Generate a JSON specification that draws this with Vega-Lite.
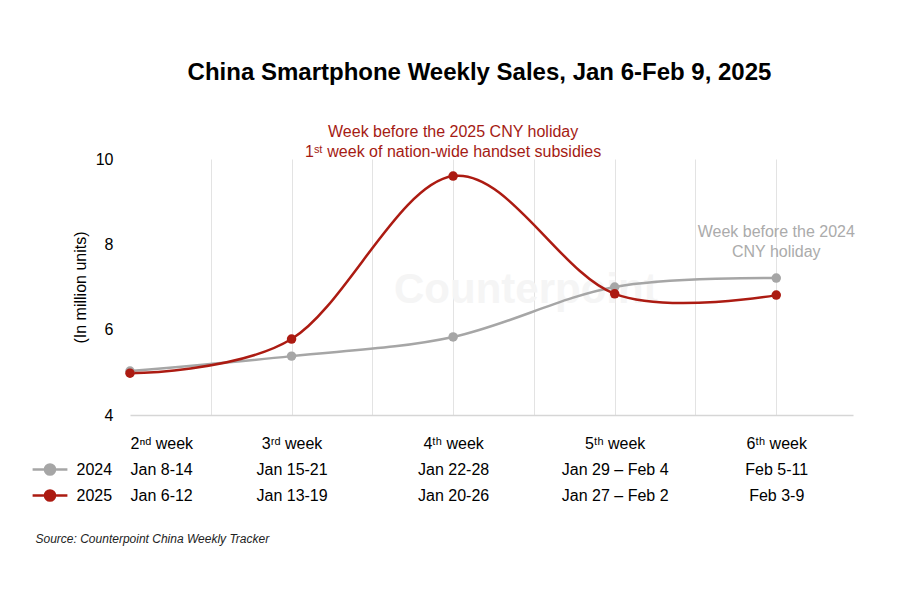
{
  "$schema": "https://vega.github.io/schema/vega-lite/v6.json",
  "autosize": {"type": "none"},
  "width": 723,
  "height": 256,
  "padding": {"left": 130, "top": 159, "right": 47, "bottom": 185},
  "background": "white",
  "config": {"font": "Liberation Sans", "view": {"stroke": null}},
  "title": {
    "text": "China Smartphone Weekly Sales, Jan 6-Feb 9, 2025",
    "font": "Liberation Sans",
    "fontSize": 24,
    "fontWeight": "bold",
    "color": "#000000",
    "anchor": "middle",
    "frame": "group",
    "dx": -12,
    "offset": 39
  },
  "datasets": {
    "sales": [
      {"week": 2, "year": "2024", "sales": 5.03},
      {"week": 3, "year": "2024", "sales": 5.38},
      {"week": 4, "year": "2024", "sales": 5.83},
      {"week": 5, "year": "2024", "sales": 7.0},
      {"week": 6, "year": "2024", "sales": 7.21},
      {"week": 2, "year": "2025", "sales": 4.98},
      {"week": 3, "year": "2025", "sales": 5.78},
      {"week": 4, "year": "2025", "sales": 9.6},
      {"week": 5, "year": "2025", "sales": 6.84},
      {"week": 6, "year": "2025", "sales": 6.81}
    ]
  },
  "layer": [
    {
      "data": {"values": [{"week": 4.45, "sales": 6.93, "text": "Counterpoint"}]},
      "mark": {"type": "text", "fontSize": 42, "fontWeight": "bold", "color": "#F5F5F5", "align": "center", "baseline": "middle"},
      "encoding": {
        "x": {"field": "week", "type": "quantitative"},
        "y": {"field": "sales", "type": "quantitative"},
        "text": {"field": "text"}
      }
    },
    {
      "data": {"name": "sales"},
      "mark": {"type": "line", "interpolate": "cardinal", "strokeWidth": 2.5},
      "encoding": {
        "x": {
          "field": "week",
          "type": "quantitative",
          "scale": {"domain": [2, 6.475], "nice": false, "zero": false},
          "axis": {
            "values": [2, 2.5, 3, 3.5, 4, 4.5, 5, 5.5, 6],
            "grid": true,
            "gridColor": {"condition": {"test": "datum.value == 2", "value": "transparent"}, "value": "#E3E3E3"},
            "gridWidth": 1,
            "domainColor": "#D6D6D6",
            "domainWidth": 1.5,
            "ticks": false,
            "labelFlush": true,
            "labelFont": "Liberation Sans",
            "labelFontSize": 16,
            "labelColor": "#000000",
            "labelBaseline": "top",
            "labelLineHeight": 26,
            "labelPadding": 20,
            "labelOverlap": false,
            "labelExpr": "datum.value == 2 ? ['2ⁿᵈ week', 'Jan 8-14', 'Jan 6-12'] : datum.value == 3 ? ['3ʳᵈ week', 'Jan 15-21', 'Jan 13-19'] : datum.value == 4 ? ['4ᵗʰ week', 'Jan 22-28', 'Jan 20-26'] : datum.value == 5 ? ['5ᵗʰ week', 'Jan 29 – Feb 4', 'Jan 27 – Feb 2'] : datum.value == 6 ? ['6ᵗʰ week', 'Feb 5-11', 'Feb 3-9'] : ''",
            "title": "Source: Counterpoint China Weekly Tracker",
            "titleFont": "Liberation Sans",
            "titleFontSize": 12,
            "titleFontStyle": "italic",
            "titleFontWeight": "normal",
            "titleColor": "#222222",
            "titleAnchor": "start",
            "titleAlign": "left",
            "titleBaseline": "alphabetic",
            "titleX": -95,
            "titleY": 127
          }
        },
        "y": {
          "field": "sales",
          "type": "quantitative",
          "scale": {"domain": [4, 10], "nice": false, "zero": false},
          "axis": {
            "values": [4, 6, 8, 10],
            "grid": false,
            "domain": false,
            "ticks": false,
            "labelFont": "Liberation Sans",
            "labelFontSize": 16,
            "labelColor": "#000000",
            "labelPadding": 17,
            "title": "(In million units)",
            "titleFont": "Liberation Sans",
            "titleFontSize": 16,
            "titleFontWeight": "normal",
            "titleColor": "#000000",
            "titleAngle": -90,
            "titleAlign": "center",
            "titleBaseline": "middle",
            "titleX": -50,
            "titleY": 128
          }
        },
        "color": {
          "field": "year",
          "type": "nominal",
          "scale": {"domain": ["2024", "2025"], "range": ["#A6A6A6", "#AC1B12"]},
          "legend": {
            "orient": "none",
            "legendX": -93.5,
            "legendY": 297,
            "title": null,
            "padding": 0,
            "symbolType": "M-1.45,0L1.45,0M0.42,0A0.42,0.42,0,1,1,-0.42,0A0.42,0.42,0,1,1,0.42,0Z",
            "symbolSize": 576,
            "symbolStrokeWidth": 2.5,
            "labelFont": "Liberation Sans",
            "labelFontSize": 16,
            "labelColor": "#000000",
            "labelOffset": 13,
            "rowPadding": 2
          }
        }
      }
    },
    {
      "data": {"name": "sales"},
      "mark": {"type": "point", "filled": true, "size": 90, "opacity": 1},
      "encoding": {
        "x": {"field": "week", "type": "quantitative"},
        "y": {"field": "sales", "type": "quantitative"},
        "color": {"field": "year", "type": "nominal"}
      }
    },
    {
      "data": {"values": [{"week": 4, "sales": 10.63, "text": ["Week before the 2025 CNY holiday", "1ˢᵗ week of nation-wide handset subsidies"]}]},
      "mark": {"type": "text", "fontSize": 16, "align": "center", "baseline": "middle", "lineHeight": 20, "color": "#A51B14"},
      "encoding": {
        "x": {"field": "week", "type": "quantitative"},
        "y": {"field": "sales", "type": "quantitative"},
        "text": {"field": "text"}
      }
    },
    {
      "data": {"values": [{"week": 6, "sales": 8.28, "text": ["Week before the 2024", "CNY holiday"]}]},
      "mark": {"type": "text", "fontSize": 16, "align": "center", "baseline": "middle", "lineHeight": 20, "color": "#ABABAB"},
      "encoding": {
        "x": {"field": "week", "type": "quantitative"},
        "y": {"field": "sales", "type": "quantitative"},
        "text": {"field": "text"}
      }
    }
  ]
}
